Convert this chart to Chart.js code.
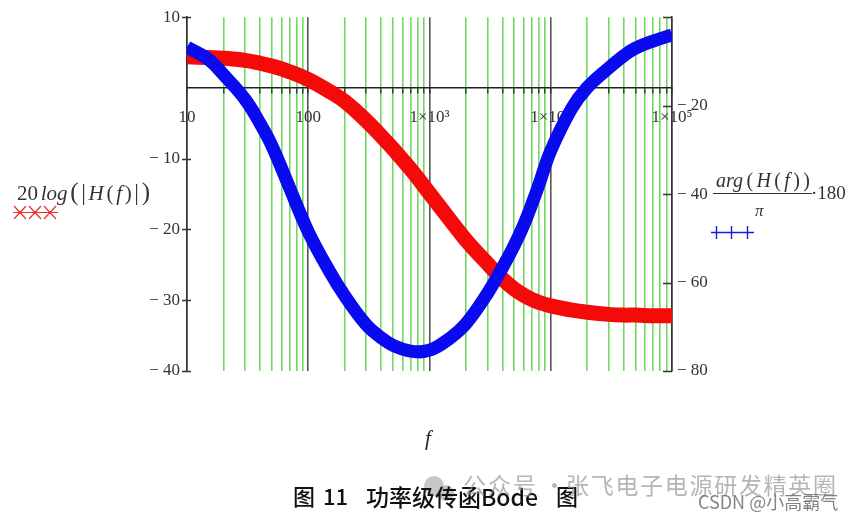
<!DOCTYPE html>
<html lang="zh">
<head>
<meta charset="UTF-8">
<title>功率级传函Bode图</title>
<script src="https://cdn.jsdelivr.net/npm/chart.js"></script>
<style>
  html, body { margin: 0; padding: 0; background: #fff; }
  #wrap { width: 865px; height: 519px; }
</style>
</head>
<body>
<div id="wrap"><canvas id="bode" width="865" height="519"></canvas></div>
<script>
// values (frequency in Hz, gain in dB, phase in degrees)
const freqs = [10, 15, 20, 30, 40, 50, 70, 100, 150, 200, 300, 400, 500, 700,
               1000, 1500, 2000, 3000, 4000, 5000, 6000, 7000, 8000, 10000, 15000, 20000,
               30000, 40000, 50000, 70000, 100000];
const gainDb = [4.4, 4.3, 4.2, 3.9, 3.5, 3.1, 2.3, 1.2, -0.5, -1.9, -4.6, -6.8, -8.6, -11.5,
                -14.9, -18.8, -21.5, -24.8, -27.0, -28.4, -29.3, -29.9, -30.3, -30.8, -31.4, -31.7,
                -32.0, -32.1, -32.1, -32.2, -32.2];
const phaseDeg = [-6.8, -9.5, -13, -18.5, -24, -29, -38.5, -48.5, -57.5, -63, -69.5, -72.5, -74.2, -75.5,
                  -75.3, -72.4, -69.3, -62.5, -56.6, -51.6, -46.9, -42.2, -37.8, -30.2, -20.5, -15.9,
                  -11.5, -8.7, -7, -5.4, -4];
const decades = [10, 100, 1000, 10000, 100000];
const decadeLabels = ['10', '100', '1×10³', '1×10⁴', '1×10⁵'];
const gainTicks = [10, 0, -10, -20, -30, -40];
const phaseTicks = [0, -20, -40, -60, -80];

const SERIF = '"Liberation Serif", "Times New Roman", serif';
const GREEN = '#70d860';
const AXIS = '#333';

function isDecade(v) {
    return decades.some(d => Math.abs(d - v) < 1e-6 * d);
}
function minusLabel(v) {
    if (v === 0) return '';
    return v < 0 ? '\u2212 ' + Math.abs(v) : String(v);
}

// short ticks pointing into the plot on the right axis, crossing ticks on the left one
const innerTicks = {
    id: 'innerTicks',
    afterDatasetsDraw(chart) {
        const ctx = chart.ctx;
        const yL = chart.scales.y, yR = chart.scales.y2;
        const area = chart.chartArea;
        ctx.save();
        ctx.strokeStyle = AXIS;
        ctx.lineWidth = 1.5;
        gainTicks.forEach(v => {
            if (v === 0) return;
            const py = Math.round(yL.getPixelForValue(v)) + 0.5;
            ctx.beginPath();
            ctx.moveTo(area.left - 5, py);
            ctx.lineTo(area.left + 4, py);
            ctx.stroke();
        });
        phaseTicks.forEach(v => {
            const py = Math.round(yR.getPixelForValue(v)) + 0.5;
            ctx.beginPath();
            ctx.moveTo(area.right - 9, py);
            ctx.lineTo(area.right, py);
            ctx.stroke();
        });
        ctx.restore();
    }
};

function drawRuns(ctx, runs, x, y, width, size) {
    const fontOf = r => (r.it ? 'italic ' : '') + (r.size || size) + 'px ' + SERIF;
    let total = 0;
    runs.forEach(r => { ctx.font = fontOf(r); r.w = ctx.measureText(r.t).width; total += r.w; });
    const gap = (width - total) / (runs.length - 1);
    let cx = x;
    runs.forEach(r => {
        ctx.font = fontOf(r);
        ctx.fillText(r.t, cx, y);
        cx += r.w + gap;
    });
}

// Mathcad style axis names, legend marks, caption and watermark
const annotations = {
    id: 'annotations',
    afterDraw(chart) {
        const ctx = chart.ctx;
        ctx.save();
        ctx.fillStyle = AXIS;
        ctx.textBaseline = 'alphabetic';
        ctx.textAlign = 'left';

        // left: 20log(|H(f)|)
        drawRuns(ctx, [
            {t: '20'}, {t: 'log', it: true}, {t: '(', size: 25}, {t: '|', size: 23}, {t: 'H', it: true},
            {t: '('}, {t: 'f', it: true}, {t: ')'}, {t: '|', size: 23}, {t: ')', size: 25}
        ], 17, 200, 133, 21);

        // red crosses under it
        ctx.strokeStyle = '#e83030';
        ctx.lineWidth = 1.2;
        ctx.beginPath();
        ctx.moveTo(13, 212.5); ctx.lineTo(58, 212.5);
        [20, 35, 50].forEach(cx => {
            ctx.moveTo(cx - 6, 206); ctx.lineTo(cx + 6, 219);
            ctx.moveTo(cx - 6, 219); ctx.lineTo(cx + 6, 206);
        });
        ctx.stroke();

        // right: arg(H(f)) / pi * 180
        ctx.fillStyle = AXIS;
        drawRuns(ctx, [
            {t: 'arg', it: true}, {t: '('}, {t: 'H', it: true}, {t: '('}, {t: 'f', it: true},
            {t: ')'}, {t: ')'}
        ], 716, 187, 94, 20);
        ctx.strokeStyle = AXIS;
        ctx.lineWidth = 1;
        ctx.beginPath();
        ctx.moveTo(713, 193.5); ctx.lineTo(812, 193.5);
        ctx.stroke();
        ctx.font = 'italic 17px ' + SERIF;
        ctx.fillText('\u03c0', 755, 216);
        ctx.font = '19px ' + SERIF;
        ctx.textBaseline = 'middle';
        ctx.fillText('\u00b7180', 811, 194);

        // blue pluses
        ctx.strokeStyle = '#1a1ae0';
        ctx.lineWidth = 1.4;
        ctx.beginPath();
        ctx.moveTo(711, 232.5); ctx.lineTo(754, 232.5);
        [716, 731, 747].forEach(cx => {
            ctx.moveTo(cx + 0.5, 226); ctx.lineTo(cx + 0.5, 239);
        });
        ctx.stroke();

        // x axis name
        ctx.fillStyle = '#222';
        ctx.textBaseline = 'middle';
        ctx.textAlign = 'center';
        ctx.font = 'italic 21px ' + SERIF;
        ctx.fillText('f', 428, 439);

        // watermark icon
        ctx.fillStyle = 'rgba(175,175,175,0.7)';
        ctx.beginPath(); ctx.arc(434, 486, 10, 0, Math.PI * 2); ctx.fill();
        ctx.beginPath(); ctx.arc(446, 493, 8, 0, Math.PI * 2); ctx.fill();

        // caption
        ctx.fillStyle = '#111';
        ctx.textAlign = 'left';
        const cap = ['图', '11', '功率级传函Bode', '图'];
        const capX = [293, 323, 366, 556];
        const capSize = [22, 22, 23, 22];
        cap.forEach((t, i) => {
            ctx.font = '500 ' + capSize[i] + 'px "Noto Sans CJK SC", sans-serif';
            ctx.fillText(t, capX[i], 497);
        });

        // watermark text, placed glyph by glyph
        ctx.fillStyle = 'rgba(150,150,150,0.7)';
        ctx.font = '23px "Noto Sans CJK SC", sans-serif';
        const head = '公众号';
        Array.from(head).forEach((ch, i) => ctx.fillText(ch, 463 + i * 25, 485));
        ctx.fillText('·', 543, 485);
        const tail = '张飞电子电源研发精英圈';
        Array.from(tail).forEach((ch, i) => ctx.fillText(ch, 566 + i * 24.7, 485));
        ctx.fillStyle = 'rgba(110,110,110,0.85)';
        ctx.font = '18px "Noto Sans CJK SC", sans-serif';
        ctx.fillText('CSDN @小高霸气', 698, 502);
        ctx.restore();
    }
};

const ctx = document.getElementById('bode').getContext('2d');
new Chart(ctx, {
    type: 'line',
    data: {
        datasets: [
            {
                label: 'arg(H(f))·180/π',
                data: freqs.map((f, i) => ({x: f, y: phaseDeg[i]})),
                yAxisID: 'y2',
                borderColor: '#0a0af0',
                borderWidth: 13,
                pointRadius: 0,
                tension: 0.4
            },
            {
                label: '20log(|H(f)|)',
                data: freqs.map((f, i) => ({x: f, y: gainDb[i]})),
                yAxisID: 'y',
                borderColor: '#f50a0a',
                borderWidth: 15,
                pointRadius: 0,
                tension: 0.4
            }
        ]
    },
    options: {
        responsive: false,
        animation: false,
        layout: { padding: { left: 0, right: 0, top: 14, bottom: 148 } },
        plugins: {
            legend: { display: false },
            tooltip: { enabled: false }
        },
        scales: {
            x: {
                type: 'logarithmic',
                position: { y: 0 },
                min: 10,
                max: 100000,
                afterBuildTicks: scale => {
                    const list = [];
                    decades.forEach((d, i) => {
                        list.push({ value: d });
                        if (i < decades.length - 1) {
                            for (let m = 2; m <= 9; m++) list.push({ value: d * m });
                        }
                    });
                    scale.ticks = list;
                },
                grid: {
                    color: c => isDecade(c.tick.value) ? '#555' : GREEN,
                    lineWidth: 1.6,
                    tickColor: '#222',
                    tickLength: 5,
                    tickWidth: 1.2
                },
                border: { display: true, color: '#222', width: 1.5 },
                ticks: {
                    autoSkip: false,
                    maxRotation: 0,
                    padding: 14,
                    color: AXIS,
                    font: { family: SERIF, size: 17 },
                    callback: v => {
                        const i = decades.findIndex(d => Math.abs(d - v) < 1e-6 * d);
                        return i >= 0 ? decadeLabels[i] : '';
                    }
                }
            },
            y: {
                position: 'left',
                min: -40,
                max: 10,
                afterFit: scale => { scale.width = 187; },
                afterBuildTicks: scale => { scale.ticks = gainTicks.map(v => ({ value: v })); },
                grid: { drawOnChartArea: false, drawTicks: false },
                border: { display: true, color: AXIS, width: 1.5 },
                ticks: {
                    padding: 7,
                    color: AXIS,
                    font: { family: SERIF, size: 17 },
                    callback: v => minusLabel(v)
                }
            },
            y2: {
                position: 'right',
                min: -80,
                max: 0,
                afterFit: scale => { scale.width = 193; },
                afterBuildTicks: scale => { scale.ticks = phaseTicks.map(v => ({ value: v })); },
                grid: { drawOnChartArea: false, drawTicks: false },
                border: { display: true, color: AXIS, width: 1.5 },
                ticks: {
                    padding: 5,
                    color: AXIS,
                    font: { family: SERIF, size: 17 },
                    callback: v => minusLabel(v)
                }
            }
        }
    },
    plugins: [innerTicks, annotations]
});
</script>
</body>
</html>
